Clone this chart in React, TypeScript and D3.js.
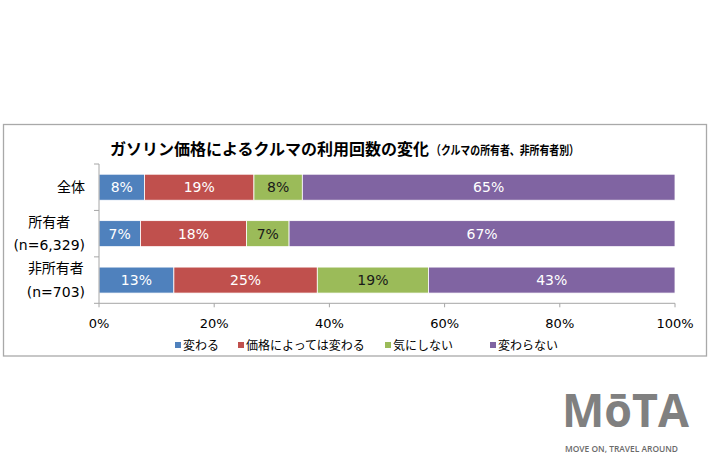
import React from "react";
import * as d3 from "d3";

const categories = ["全体", "所有者\n(n=6,329)", "非所有者\n(n=703)"];
const seriesNames = ["変わる", "価格によっては変わる", "気にしない", "変わらない"];
const kawaru = [7.9, 7.2, 13.0];
const kakakuNiYotte = [19.0, 18.4, 24.9];
const kiNiShinai = [8.4, 7.4, 19.3];
const kawaranai = [64.7, 67.0, 42.8];
const xTicks = [0, 20, 40, 60, 80, 100];
const colors = ["#4f81bd", "#c0504d", "#9bbb59", "#8064a2"];
const labelColors = ["#ffffff", "#ffffff", "#1a1a1a", "#ffffff"];

const NUM_FONT = "'DejaVu Sans', 'Noto Sans CJK JP', sans-serif";
const JP_FONT = "'Noto Sans CJK JP', sans-serif";

function measure(text: string, font: string): number {
  const c = document.createElement("canvas");
  const ctx = c.getContext("2d")!;
  ctx.font = font;
  return ctx.measureText(text).width;
}

export default function App() {
  const W = 710, H = 473;
  const left = 99, right = 675, top = 164, bottom = 303.3;

  const rows = categories.map((c, i) => ({
    cat: c,
    s0: kawaru[i],
    s1: kakakuNiYotte[i],
    s2: kiNiShinai[i],
    s3: kawaranai[i],
  }));
  const stack = d3.stack<any>().keys(["s0", "s1", "s2", "s3"]);
  const stacked = stack(rows);

  const x = d3.scaleLinear().domain([0, 100]).range([left, right]);
  const y = d3.scaleBand<string>().domain(categories).range([top, bottom]).paddingInner(0.44).paddingOuter(0.22);
  const step = y.step();

  const legendX = [175, 238, 385, 490];
  const axisColor = "#a6a6a6";

  return (
    <svg width={W} height={H} style={{ position: "absolute", left: 0, top: 0, background: "#fff" }}>
      <rect x={3.5} y={124.5} width={703} height={231.5} fill="#fff" stroke="#a9a9a9" strokeWidth={1.3} />
      <text x={110} y={155} fontFamily={JP_FONT} fontWeight="bold" fontSize={16} fill="#000">
        ガソリン価格によるクルマの利用回数の変化
      </text>
      <text x={431} y={154.5} fontFamily={JP_FONT} fontWeight="bold" fontSize={12.5} fill="#000" textLength={148} lengthAdjust="spacingAndGlyphs">
        （クルマの所有者、非所有者別）
      </text>

      {/* bars */}
      {stacked.map((layer, si) => (
        <g key={si}>
          {layer.map((d, ri) => {
            const x0 = x(d[0]), x1 = x(d[1]);
            const yy = y(categories[ri])!;
            return (
              <g key={ri}>
                <rect x={x0} y={yy} width={x1 - x0} height={y.bandwidth()} fill={colors[si]} stroke="#ffffff" strokeWidth={0.8} />
                <text x={(x0 + x1) / 2} y={yy + y.bandwidth() / 2 + 5} textAnchor="middle" fontFamily={NUM_FONT} fontSize={14} fill={labelColors[si]}>
                  {Math.round(d[1] - d[0])}%
                </text>
              </g>
            );
          })}
        </g>
      ))}

      {/* y axis */}
      <line x1={left} x2={left} y1={top} y2={bottom} stroke={axisColor} strokeWidth={1} />
      {d3.range(categories.length + 1).map((i) => (
        <line key={i} x1={left - 5} x2={left} y1={top + i * step} y2={top + i * step} stroke={axisColor} strokeWidth={1} />
      ))}
      {categories.map((c) => {
        const lines = c.split("\n");
        const font = `14px ${NUM_FONT}`;
        const maxW = Math.max(...lines.map((l) => measure(l, font)));
        const cx = 85 - maxW / 2;
        const yc = y(c)! + y.bandwidth() / 2;
        const lh = 23.5;
        return (
          <text key={c} textAnchor="middle" fontFamily={NUM_FONT} fontSize={14} fill="#000">
            {lines.map((l, li) => (
              <tspan key={li} x={cx} y={yc + 5 + (li - (lines.length - 1) / 2) * lh}>
                {l}
              </tspan>
            ))}
          </text>
        );
      })}

      {/* x axis */}
      <line x1={left} x2={right} y1={bottom} y2={bottom} stroke={axisColor} strokeWidth={1} />
      {xTicks.map((t) => (
        <g key={t}>
          <line x1={x(t)} x2={x(t)} y1={bottom} y2={bottom + 4} stroke={axisColor} strokeWidth={1} />
          <text x={x(t)} y={327.5} textAnchor="middle" fontFamily={NUM_FONT} fontSize={13} fill="#000">
            {t}%
          </text>
        </g>
      ))}

      {/* legend */}
      {seriesNames.map((n, i) => (
        <g key={n}>
          <rect x={legendX[i]} y={342} width={6} height={6} fill={colors[i]} />
          <text x={legendX[i] + 8} y={349.5} fontFamily={JP_FONT} fontSize={12} fill="#000">
            {n}
          </text>
        </g>
      ))}

      {/* logo */}
      <text x={562} y={427} fontFamily="'Open Sans', 'DejaVu Sans', sans-serif" fontWeight="bold" fontSize={47} fill="#808080" textLength={127} lengthAdjust="spacingAndGlyphs">
        MōTA
      </text>
      <text x={565} y={452} fontFamily="'Open Sans', 'DejaVu Sans', sans-serif" fontWeight="600" fontSize={8.2} fill="#6a6a6a" textLength={113} lengthAdjust="spacingAndGlyphs">
        MOVE ON, TRAVEL AROUND
      </text>
    </svg>
  );
}
